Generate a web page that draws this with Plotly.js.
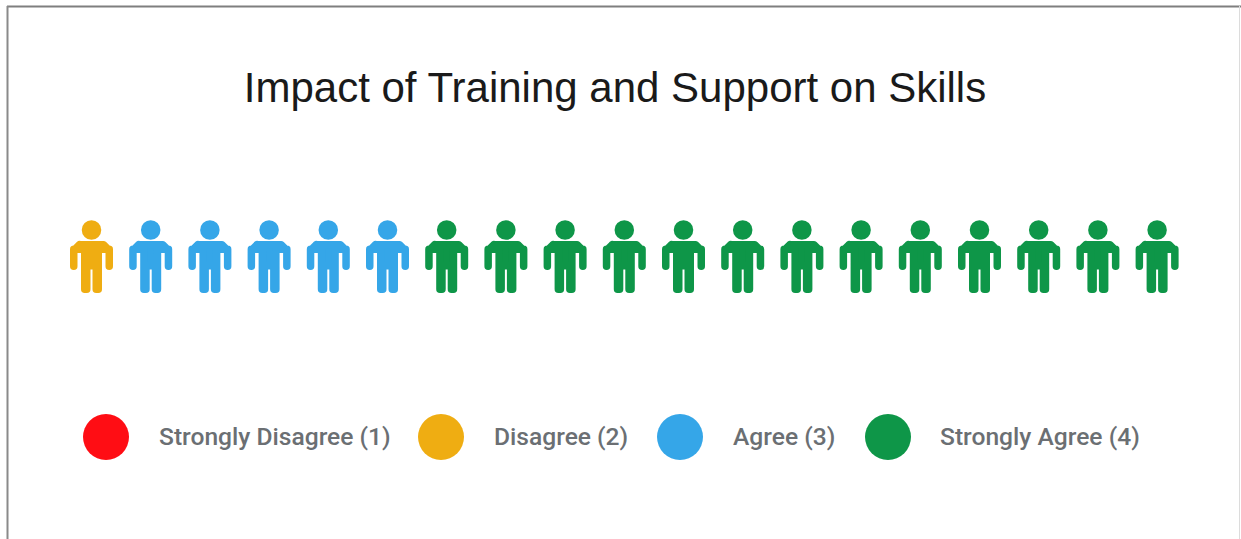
<!DOCTYPE html>
<html><head><meta charset="utf-8">
<script src="https://cdn.plot.ly/plotly-3.0.1.min.js"></script>
<style>html,body{margin:0;padding:0;background:#fff}
.scatterlayer .js-line{stroke-linejoin:round !important;stroke-linecap:round !important}</style></head>
<body><div id="chart" style="width:1241px;height:539px"></div>
<script>
const categories = ["Strongly Disagree (1)", "Disagree (2)", "Agree (3)", "Strongly Agree (4)"];
const counts = [0, 1, 5, 13];
const colors = ["#FF0D14", "#EFAD12", "#35A6E8", "#0E9648"];
const chartTitle = "Impact of Training and Support on Skills";

// layout geometry
const W = 1241, H = 539;
const firstCx = 91.5, pitch = 59.2, rowPx = 258, legendPx = 437;
const legendDot = [106, 441, 680, 888], legendText = [159, 494, 733, 940];
const unitY = legendPx - rowPx;
const toX = px => (px - firstCx) / pitch;
const xSpan = v => v / pitch, ySpan = v => -v / unitY;

// person glyph outline, px from icon centre (stroke rounds the corners)
const gx = [-12,12,17.75,17.75,17.75,6.75,6.75,4.75,4.75,-4.75,-4.75,-6.75,-6.75,-17.75,-17.75,-17.75,-12];
const gy = [-13.25,-13.25,-7.5,8.25,-8.75,-8.75,31.25,31.25,7.75,7.75,31.25,31.25,-8.75,-8.75,8.25,-7.5,-13.25];
const headDy = -28, headSize = 19.5;

const traces = [];
let idx = 0;
categories.forEach((name, c) => {
  const x = [], y = [], hx = [], hy = [];
  for (let n = 0; n < counts[c]; n++, idx++) {
    gx.forEach((g, k) => { x.push(idx + xSpan(g)); y.push(ySpan(gy[k])); });
    x.push(null); y.push(null);
    hx.push(idx); hy.push(ySpan(headDy));
  }
  if (!x.length) return;
  traces.push({type:"scatter", mode:"lines", name, x, y, fill:"toself", fillcolor:colors[c],
    line:{color:colors[c], width:7.5}, hoverinfo:"name", showlegend:false});
  traces.push({type:"scatter", mode:"markers", name, x:hx, y:hy,
    marker:{color:colors[c], size:headSize}, hoverinfo:"name", showlegend:false});
});
traces.push({type:"scatter", mode:"markers", x:legendDot.map(toX), y:categories.map(()=>-1),
  marker:{color:colors, size:46}, text:categories, hoverinfo:"text", showlegend:false});
traces.push({type:"scatter", mode:"text", x:legendText.map(toX), y:categories.map(()=>-1-ySpan(-1.5)),
  text:categories, textposition:"middle right", hoverinfo:"skip", showlegend:false,
  textfont:{family:"Roboto, sans-serif", size:24.6, weight:500, color:"#6b6f73"}});

const layout = {
  width:W, height:H, margin:{l:0,r:0,t:0,b:0},
  paper_bgcolor:"#fff", plot_bgcolor:"rgba(0,0,0,0)", showlegend:false,
  title:{text:chartTitle, x:615/W, xanchor:"center", y:1-87/H, yanchor:"middle",
    font:{family:"Liberation Sans, Arial, sans-serif", size:42, color:"#1a1a1a"}},
  xaxis:{range:[toX(0), toX(W)], visible:false, fixedrange:true},
  yaxis:{range:[(rowPx-H)/unitY, rowPx/unitY], visible:false, fixedrange:true},
  shapes:[
    {type:"line", xref:"paper", yref:"paper", x0:7/W, x1:1, y0:1-6.5/H, y1:1-6.5/H, line:{color:"#7f7f7f", width:2}},
    {type:"line", xref:"paper", yref:"paper", x0:7.5/W, x1:7.5/W, y0:0, y1:1-6/H, line:{color:"#8a8a8a", width:2}},
    {type:"line", xref:"paper", yref:"paper", x0:1239.5/W, x1:1239.5/W, y0:0, y1:1-6/H, line:{color:"#dcdcdc", width:1}}
  ]
};
Plotly.newPlot("chart", traces, layout, {displayModeBar:false, responsive:false});
</script></body></html>
